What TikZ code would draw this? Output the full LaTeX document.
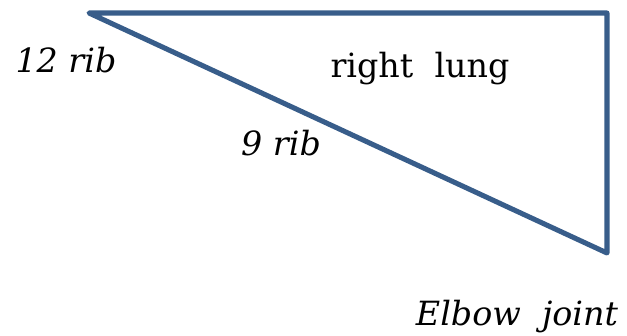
\documentclass[tikz,border=0pt]{standalone}
\usepackage{fontspec}
\setmainfont{DejaVu Serif}
\usetikzlibrary{positioning}
\definecolor{lungblue}{RGB}{56,93,138}

\begin{document}
\begin{tikzpicture}[
  x=0.75pt, y=-0.75pt,
  every node/.style={font=\fontsize{25}{30}\selectfont, inner sep=0pt},
  ribtext/.style={anchor=base, font=\fontsize{25}{30}\selectfont\itshape},
  lungtext/.style={anchor=base},
  side/.style={draw=lungblue, line width=3.8pt, line join=round, line cap=round},
]
\useasboundingbox (0,0) rectangle (627,335);

% ---- corners of the lung triangle ----
\coordinate (apex)  at (89, 13);
\coordinate (top)   at (607, 13);
\coordinate (elbow) at (607, 253);

% ---- labels ----
\node[ribtext]  (rib12) at (66, 73)  {12 rib};
\node[ribtext]  (rib9)  at (281, 155) {9 rib};
\node[lungtext] (lung)  at (420, 77) {right\ \ lung};
\node[ribtext]  (joint) at (517, 325) {Elbow\ \ joint};

% ---- sides ----
\draw[side] (apex) -- (top) -- (elbow) -- cycle;

\end{tikzpicture}
\end{document}
